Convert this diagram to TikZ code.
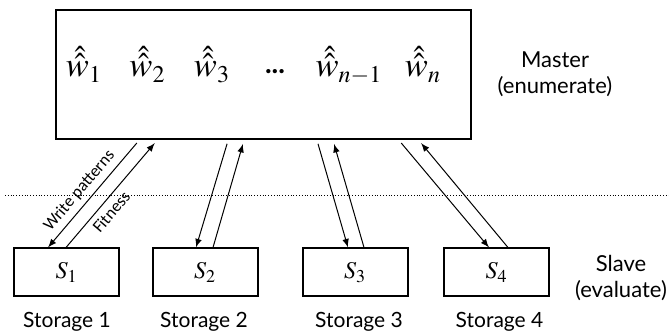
\documentclass[tikz,border=0pt]{standalone}
\usepackage{amsmath}
\usepackage{mathptmx}
\usepackage[no-math]{fontspec}
\setmainfont{Lato}
\newfontfamily\arrowfont{Carlito}
\begin{document}
\begin{tikzpicture}[x=0.5pt,y=-0.5pt,>=latex,
  box/.style={draw, line width=1pt, inner sep=0pt},
  role/.style={align=center, font=\fontsize{11}{13}\selectfont},
  store/.style={anchor=base, font=\fontsize{10.5}{13}\selectfont},
  weight/.style={anchor=base, font=\LARGE},
  link/.style={->, line width=0.5pt},
  tag/.style={font=\arrowfont\fontsize{8.5}{10}\selectfont, sloped, inner sep=2.5pt}]
\useasboundingbox (0,0) rectangle (669,335);

% master holds the weights
\node[box, minimum width=207.5pt, minimum height=64.5pt] (master) at (263.5,74.5) {};
\node[weight] (w1) at (84,77) {$\hat{\hat{w}}_1$};
\node[weight] (w2) at (147.5,77) {$\hat{\hat{w}}_2$};
\node[weight] (w3) at (212,77) {$\hat{\hat{w}}_3$};
\node[weight, font=\fontsize{14}{14}\bfseries] (dots) at (275,77) {\raisebox{1.5pt}{...}};
\node[weight] (wm) at (349,77) {$\hat{\hat{w}}_{n-1}$};
\node[weight] (wn) at (423,77) {$\hat{\hat{w}}_n$};
\node[role] (mlabel) at (555,74) {Master\\(enumerate)};

% split between the two levels
\draw[densely dotted, line width=0.4pt] (5,195) -- (669,195);

% storages
\node[box, minimum width=52.5pt, minimum height=24pt] (s1) at (66.5,272.5) {\large$S_1$};
\node[box, minimum width=52.5pt, minimum height=24pt] (s2) at (205,272.5) {\large$S_2$};
\node[box, minimum width=52.5pt, minimum height=24pt] (s3) at (355,272.5) {\large$S_3$};
\node[box, minimum width=52.5pt, minimum height=24pt] (s4) at (496.5,272.5) {\large$S_4$};
\node[store] (l1) at (67,328) {Storage 1};
\node[store] (l2) at (204,328) {Storage 2};
\node[store] (l3) at (359,328) {Storage 3};
\node[store] (l4) at (499.5,328) {Storage 4};
\node[role] (slabel) at (621,278) {Slave\\(evaluate)};

% patterns down, fitness back up
\draw[link, shorten <=2pt] (master.south -| 139.4,0) -- (s1.north -| 48,0)
  node[tag, pos=0.55, above] {Write patterns};
\draw[link, shorten >=2pt] (s1.north -| 66,0) -- (master.south -| 157.4,0)
  node[tag, pos=0.4, below] {Fitness};
\draw[link, shorten <=2pt] (master.south -| 228.2,0) -- (s2.north -| 196,0);
\draw[link, shorten >=2pt] (s2.north -| 213,0) -- (master.south -| 244.1,0);
\draw[link, shorten <=2pt] (master.south -| 316.9,0) -- (s3.north -| 348,0);
\draw[link, shorten >=2pt] (s3.north -| 364,0) -- (master.south -| 332.9,0);
\draw[link, shorten <=2pt] (master.south -| 398.7,0) -- (s4.north -| 489,0);
\draw[link, shorten >=2pt] (s4.north -| 508,0) -- (master.south -| 418.5,0);
\end{tikzpicture}
\end{document}
